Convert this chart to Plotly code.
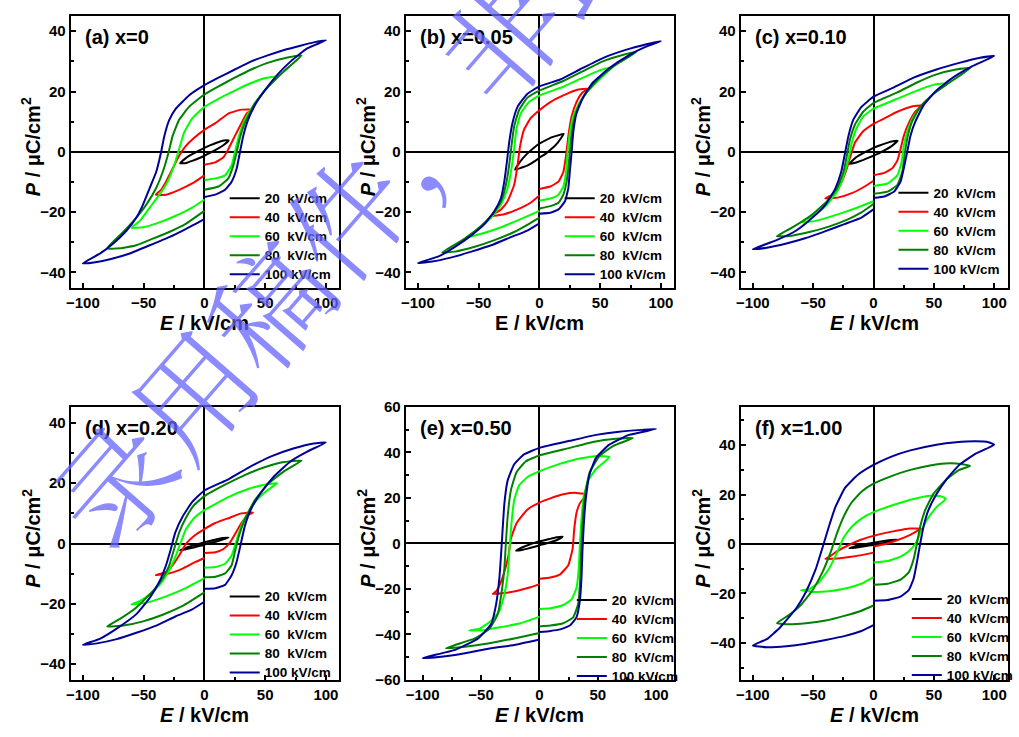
import plotly.graph_objects as go

# ---------------- data (E in kV/cm, P in uC/cm^2) ----------------
FIELD_LABELS = ["20\u00a0\u00a0kV/cm", "40\u00a0\u00a0kV/cm", "60\u00a0\u00a0kV/cm", "80\u00a0\u00a0kV/cm", "100\u00a0kV/cm"]
PANEL_TITLES = ["(a) x=0", "(b) x=0.05", "(c) x=0.10", "(d) x=0.20", "(e) x=0.50", "(f) x=1.00"]

# panel (a) x=0
A20 = [(0,-1.3),(5,-0.3),(10,0.8),(15,2.0),(20,3.8),(15,3.7),(10,3.0),(5,2.2),(0,1.3),(-5,0.3),(-10,-0.8),(-15,-2.0),(-20,-3.8),(-15,-3.7),(-10,-3.0),(-5,-2.2),(0,-1.3)]
A40 = [(0,-4.3),(9,-3.5),(15.7,-1.8),(19.7,0.9),(25,5.2),(30.5,9.5),(35,12.8),(40,14),(30.5,14),(19.7,12.7),(9,9.5),(0,7.3),(-8.6,4.6),(-15.4,1.9),(-20.8,-1.3),(-26.2,-5.6),(-31.6,-9.9),(-36,-12.8),(-40,-14.2),(-31.6,-14.2),(-20.8,-12.6),(-10,-10.5),(0,-7.8)]
A60 = [(0,-9.4),(9,-8.8),(17,-7.8),(22.4,-4.5),(25,-0.2),(28.4,5.2),(33.2,10.6),(41.4,16),(49.5,20.3),(60,25),(49.5,24.4),(36,22.4),(25,20.3),(11.6,17.6),(0,14.9),(-10,11.1),(-16.8,6.3),(-20.8,0.9),(-24.9,-4.5),(-30.3,-9.9),(-37,-14.2),(-45,-18.5),(-53.2,-22.9),(-60,-25.2),(-50.5,-25),(-37,-23.4),(-23.5,-21.2),(-10,-18.5),(0,-15.8)]
A80 = [(0,-12.6),(11.6,-11.5),(19.7,-8.8),(23.8,-4.5),(26.5,-0.2),(29.2,4.6),(33.2,9.5),(41.4,16),(52,21.4),(65.7,26.8),(80,32),(68.4,31.3),(52,29.5),(38.6,27.3),(25,24.6),(11.6,21.7),(0,19),(-12.7,14.9),(-20.8,10.6),(-26.2,5.2),(-29.5,-0.2),(-34.3,-6.7),(-39.7,-12),(-47.8,-17.5),(-56,-21.8),(-66.8,-26.6),(-80,-32),(-69.5,-32),(-56,-31),(-42.4,-28.8),(-29,-26.6),(-15.4,-23.9),(0,-19.6)]
A100 = [(0,-15),(9,-14.2),(17,-12.6),(22.4,-9.9),(26.5,-5.6),(29.2,-0.2),(31.9,5.2),(35.9,10.6),(41.4,15.4),(49.5,20.3),(60.3,25.7),(71,30),(84.6,34.3),(100,37),(90,36.3),(79,35.2),(65.7,33.8),(52,32),(38.6,30),(25,27.3),(11.6,24.6),(0,22.1),(-12.7,18.7),(-23.5,14.3),(-28.9,10.6),(-33,5.2),(-35.7,-0.2),(-39.7,-6.7),(-45,-12),(-50.5,-17.5),(-56,-21.8),(-64,-26.1),(-75,-30.4),(-85.7,-33.7),(-100,-37),(-91,-36.7),(-77.6,-35.6),(-61.4,-33.7),(-45,-31),(-29,-28.3),(-15.4,-25.6),(0,-22.3)]

# panel (b) x=0.05
B20 = [(0,-1.9),(5,-0.7),(10,1.0),(15,3.0),(20,6.0),(15,5.4),(10,4.8),(5,3.8),(0,2.7),(-5,1.2),(-10,-0.6),(-15,-2.8),(-20,-5.9),(-15,-5.3),(-10,-4.6),(-5,-3.4),(0,-2.0)]
B40 = [(0,-12.3),(9,-11.5),(15.7,-9.9),(19.7,-6.7),(21.9,-1.3),(23.8,5.2),(26.5,11.7),(30.5,16.5),(35,19.5),(40,21),(30.5,20.5),(19.7,18.7),(9,16.5),(0,13.8),(-7.3,11.1),(-12.7,7.3),(-15.9,1.9),(-18,-4.5),(-20.8,-11),(-26.2,-16.4),(-31.6,-19.1),(-40,-21.3),(-28.9,-20.7),(-18,-19.1),(-7.3,-16.9),(0,-14.5)]
B60 = [(0,-16.2),(9,-15.5),(15.7,-14.2),(19.7,-11.5),(21.9,-6.7),(23.2,-0.2),(25,6.3),(27.8,11.7),(33.2,16.5),(41.4,20.8),(50.8,24.6),(60,28),(49.5,27),(36,24.6),(19.7,21.6),(0,18.7),(-8.6,16.5),(-15.4,12.7),(-19,7.3),(-20.8,0.9),(-23,-5.6),(-26.2,-12.1),(-31.6,-17.5),(-39.7,-21.8),(-50.5,-25.6),(-60,-28.3),(-47.8,-27.2),(-31.6,-25),(-15.4,-22.3),(0,-19.6)]
B80 = [(0,-18.8),(9,-18),(15.7,-16.9),(19.7,-14.2),(22.4,-9.9),(24.3,-3.5),(25.7,3),(27.8,9.5),(31.9,14.9),(38.6,19.7),(49.5,24.6),(63,28.9),(80,33.2),(68.4,32.1),(52.2,30),(36,26.8),(19.7,23.5),(0,20.3),(-10,17.9),(-16.8,13.8),(-20.8,8.4),(-23,1.9),(-24.9,-4.5),(-27.6,-11),(-31.6,-16.4),(-38.4,-20.7),(-47.8,-24.5),(-61.4,-28.8),(-80,-33.4),(-69.5,-33.1),(-53.2,-31.5),(-37,-29.3),(-20.8,-26.6),(-10,-24.2),(0,-21.8)]
B100 = [(0,-20.5),(9,-20.2),(15.7,-19.1),(21,-16.4),(23.8,-12.1),(25,-6.7),(26.5,-0.2),(27.8,6.3),(30.5,12.7),(36,18.1),(44,23),(57.6,27.8),(73.8,32.1),(87.3,34.8),(100,36.7),(87.3,35.6),(71,33.8),(52.2,31.1),(33.2,27.3),(17,24),(0,21.7),(-10,19.2),(-18,14.9),(-22.2,9.5),(-24.9,3),(-26.8,-3.5),(-28.9,-9.9),(-31.6,-15.3),(-37,-19.6),(-45,-23.9),(-56,-27.7),(-69.5,-31.5),(-83,-34.7),(-100,-36.9),(-88.4,-36.4),(-72.2,-35),(-56,-33.1),(-39.7,-31),(-23.5,-28.3),(-10,-26.1),(0,-23.7)]

# panel (c) x=0.10
C20 = [(0,-1.2),(5,-0.4),(10,0.7),(15,1.9),(20,3.7),(15,3.4),(10,2.8),(5,2.1),(0,1.3),(-5,0.3),(-10,-0.8),(-15,-2.0),(-20,-4.0),(-15,-3.6),(-10,-2.9),(-5,-2.1),(0,-1.3)]
C40 = [(0,-7.8),(9,-7),(15.7,-5.4),(19.7,-2.9),(22.4,0.9),(25,5.2),(29.2,9.5),(34.6,13.3),(40,15.4),(30.5,14.9),(19.7,13.3),(9,11.1),(0,9.3),(-8.6,6.8),(-15.4,3),(-19,-1.3),(-22.2,-5.6),(-26.2,-9.9),(-31.6,-13.7),(-40,-15.5),(-28.9,-15.1),(-18,-13.7),(-7.3,-11.5),(0,-9.6)]
C60 = [(0,-11.3),(11.6,-10.5),(19.7,-7.8),(23.2,-3.5),(25,1.9),(28.4,7.3),(33.2,11.7),(41.4,16),(50.8,19.7),(60,22.7),(49.5,22.2),(36,20.3),(19.7,17.6),(0,14.3),(-8.6,11.7),(-14,7.9),(-18,3),(-20.8,-2.4),(-24.9,-8.3),(-30.3,-13.2),(-38.4,-17.5),(-47.8,-20.7),(-60,-23.4),(-47.8,-22.9),(-31.6,-21),(-15.4,-18.8),(0,-16.4)]
C80 = [(0,-13.9),(11.6,-13.2),(19.7,-11),(23.8,-6.7),(26,-0.2),(28.4,5.2),(31.9,10),(38.6,14.9),(49.5,19.2),(63,23),(80,27.8),(68.4,27.3),(52.2,25.7),(36,23),(19.7,19.7),(0,16.2),(-8.6,13.3),(-15.4,9),(-19.5,4.1),(-21.6,-0.2),(-24.9,-6.7),(-30.3,-12.1),(-38.4,-16.4),(-50.5,-20.7),(-66.8,-25),(-80,-28),(-69.5,-27.9),(-53.2,-26.6),(-37,-24.8),(-20.8,-22.3),(-10,-20.1),(0,-17.3)]
C100 = [(0,-15.3),(9,-14.8),(17,-13.2),(22.4,-9.9),(25,-5.6),(27.8,-0.2),(30.5,5.2),(34.6,10),(41.4,15.4),(52,20.3),(65.7,24.6),(81.9,28.4),(100,31.8),(87.3,31.1),(71,29.5),(52.2,27.3),(33.2,24.6),(17,21.4),(0,18.3),(-10,14.9),(-16.8,10.6),(-20.8,5.2),(-23.5,-0.2),(-26.8,-6.7),(-31.6,-12.1),(-39.7,-17.5),(-50.5,-21.8),(-64,-26.1),(-80.3,-29.3),(-100,-32.3),(-88.4,-31.8),(-72.2,-30.4),(-56,-28.6),(-39.7,-26.3),(-23.5,-23.9),(-10,-21.8),(0,-19.1)]

# panel (d) x=0.20
D20 = [(0,-0.3),(5,0.2),(10,0.7),(15,1.3),(20,2.0),(15,1.8),(10,1.4),(5,0.9),(0,0.4),(-5,-0.2),(-10,-0.7),(-15,-1.4),(-20,-2.2),(-15,-1.9),(-10,-1.4),(-5,-0.9),(0,-0.5)]
D40 = [(0,-3.1),(9,-2.9),(15.7,-1.8),(21,0.3),(25,3),(30.5,6.8),(36,9.5),(40,10.3),(30.5,10),(19.7,8.4),(9,6.8),(0,4.8),(-8.6,2.5),(-15.4,-0.2),(-20.8,-4),(-26.2,-7.2),(-31.6,-9.4),(-40,-10.5),(-28.9,-9.9),(-18,-8.3),(-7.3,-6.1),(0,-4.8)]
D60 = [(0,-8),(9,-7.8),(17,-6.7),(22.4,-4),(25.7,0),(29.2,4.6),(34.6,9.5),(42.7,14.3),(52.2,17.8),(60,20),(49.5,19.5),(36,18.1),(19.7,15.4),(0,11.1),(-8.6,8.4),(-15.4,4.6),(-19.5,0.3),(-23.5,-4),(-28.9,-8.8),(-35.7,-13.1),(-43.8,-16.4),(-53.2,-19.1),(-60,-20.2),(-47.8,-19.6),(-31.6,-17.5),(-15.4,-14.8),(0,-11.5)]
D80 = [(0,-11.2),(9,-11),(17,-9.9),(22.4,-7.2),(25,-2.9),(28.4,2.5),(33.2,7.9),(41.4,14.3),(52.2,19.7),(65.7,24),(80,27.5),(65.7,27),(49.5,25.3),(33.2,22.7),(17,19.5),(0,15.7),(-8.6,12.7),(-15.4,8.4),(-20.8,3.6),(-24.9,-1.8),(-28.9,-7.2),(-34.3,-11.5),(-42.4,-15.8),(-56,-21.2),(-69.5,-25),(-80,-27.5),(-66.8,-27.2),(-50.5,-25.8),(-34.3,-23.6),(-18,-20.7),(0,-16.2)]
D100 = [(0,-15),(9,-14.8),(17,-13.7),(22.4,-10.5),(26.5,-6.1),(30,0),(33.2,5.7),(38.6,11.6),(46.8,17),(57.6,22.4),(71,27.3),(84.6,30.5),(100,33.5),(90,33.2),(73.8,31.6),(54.9,28.9),(36,25.1),(19.7,21.3),(0,17.6),(-10,13.8),(-18,8.9),(-24,3.6),(-27.6,-1.8),(-31.6,-7.2),(-37,-12.6),(-45,-18),(-56,-23.4),(-72.2,-28.2),(-85.7,-31.5),(-100,-33.6),(-88.4,-33.1),(-72.2,-31.7),(-56,-29.6),(-39.7,-27.2),(-23.5,-24.1),(-10,-21.8),(0,-19.3)]

# panel (e) x=0.50
E20 = [(0,-0.8),(5,-0.2),(10,0.6),(15,1.5),(20,3.0),(15,2.7),(10,2.1),(5,1.5),(0,0.9),(-5,0.1),(-10,-0.8),(-15,-1.8),(-20,-3.2),(-15,-2.9),(-10,-2.3),(-5,-1.6),(0,-0.9)]
E40 = [(0,-15.6),(9.3,-15),(17.7,-13.6),(24.7,-9.6),(28.4,-2.4),(29.8,6.2),(31.7,13.3),(34.6,17.6),(40,21.5),(31.7,22.2),(20.5,21.6),(9.3,19.8),(0,17.9),(-10.4,14.8),(-19.5,9),(-24.5,1.9),(-26.5,-5.3),(-30,-12.5),(-33.4,-17.5),(-37.1,-21.1),(-40,-22.2),(-30,-21.8),(-18.8,-20.8),(-7.6,-19.3),(0,-17.9)]
E60 = [(0,-28.9),(9.3,-28.5),(20.5,-27.1),(27.5,-24.6),(31.7,-19.6),(33.7,-11),(34.6,-1),(36,10.5),(37.9,20.5),(41.6,27.7),(48.6,32.7),(60,38),(48.6,38.4),(31.7,37),(14.9,34.5),(0,31.7),(-10.4,29.1),(-17.4,25.5),(-21.6,19.1),(-23.9,9),(-25.6,-2.4),(-27.2,-13.9),(-30,-22.5),(-34.3,-29.7),(-41.3,-34),(-51.1,-37.5),(-60,-38.3),(-49.7,-38.3),(-32.9,-36.8),(-16,-35.1),(0,-32.2)]
E80 = [(0,-36.5),(9.3,-36.1),(20.5,-35.1),(28.9,-32.5),(33.1,-26.8),(34.8,-16.8),(35.7,-3.9),(36.8,7.6),(38.8,20.5),(43,31.2),(51.4,38.4),(62.6,42.7),(80,46.3),(65.4,46),(45.8,44.6),(26.1,42),(0,38.7),(-11.8,36),(-19.7,31.2),(-24.4,23.4),(-27.2,11.9),(-28.7,0.4),(-30,-11),(-32.3,-21.1),(-35.7,-31.1),(-42.7,-37.5),(-55.3,-41.8),(-72.2,-44.7),(-80,-46.1),(-63.8,-45.4),(-44.1,-44),(-21.6,-41.8),(0,-39.4)]
E100 = [(0,-39),(9.3,-38.5),(17.7,-37.8),(26.1,-36.1),(31.7,-32.5),(34.6,-25.4),(36,-15.3),(36.8,-3.9),(37.9,7.6),(39.6,19.1),(43,30.5),(48.6,37.7),(59.8,43.4),(76.7,47.7),(100,50.3),(87.9,49.9),(68.3,49.1),(48.6,47.7),(26.1,45.1),(0,42),(-13.2,39.1),(-21.6,34.8),(-27.2,27.7),(-30,17.6),(-31.5,6.2),(-32.9,-5.3),(-34.3,-15.3),(-37.1,-26.8),(-41.3,-35.4),(-52.5,-41.8),(-72.2,-46.8),(-100,-50.4),(-86.2,-50),(-63.8,-48.3),(-41.3,-46.1),(-21.6,-44.7),(0,-42.3)]

# panel (f) x=1.00
F20 = [(0,-0.4),(5,0),(10,0.5),(15,1.0),(20,1.8),(15,1.6),(10,1.3),(5,0.9),(0,0.5),(-5,0.1),(-10,-0.4),(-15,-0.9),(-20,-1.7),(-15,-1.5),(-10,-1.1),(-5,-0.7),(0,-0.4)]
F40 = [(0,-1),(10,0),(20,1.6),(30,3.6),(37,5.5),(40,6.2),(30,6.3),(20,5.5),(10,4.5),(0,3.3),(-10,1.8),(-20,-0.3),(-30,-2.9),(-37,-5.3),(-40,-6),(-30,-5.9),(-20,-5.3),(-10,-4.5),(0,-3.5)]
F60 = [(0,-7.5),(11.6,-6.9),(22.4,-5.1),(29.2,-2.9),(34.6,0),(38.6,4.3),(44,9.6),(52.2,14.9),(60,18.4),(54.9,19.4),(46.8,19.5),(33.2,18.2),(17,15.9),(0,12.9),(-10,10.3),(-18,7),(-24.9,2.4),(-30.3,-3.6),(-37,-10.1),(-45,-15.4),(-53.2,-18.3),(-60,-18.7),(-50.5,-19.4),(-37,-19.1),(-23.5,-18),(-10,-16.1),(0,-13.4)]
F80 = [(0,-16.5),(11.6,-16.1),(22.4,-14.4),(29.2,-11.5),(33.2,-6.2),(35.9,0),(38.6,7),(42.7,13.6),(49.5,20.2),(60.3,26.1),(71,30),(80,31.6),(73.8,32.3),(63,32.7),(46.8,31.8),(30.5,30),(14.3,27.4),(0,24.4),(-10,21.2),(-18,16.9),(-24.9,10.9),(-30.3,4.3),(-35.7,-3.6),(-42.4,-11.5),(-50.5,-18.7),(-60,-24.6),(-69.5,-28.6),(-80,-32),(-72.2,-32.5),(-56,-32.1),(-39.7,-31),(-23.5,-29),(-10,-27),(0,-24.9)]
F100 = [(0,-23),(11.6,-22.7),(22.4,-21.3),(29.2,-18.7),(33.2,-14.1),(35.9,-7.5),(38.6,0),(41.4,7),(45.4,13.6),(52.2,20.2),(60.3,26.1),(71,32),(84.6,36.6),(100,40.2),(95.4,41.2),(84.6,41.6),(68.4,41.2),(52.2,40.2),(30.5,37.9),(14.3,35.3),(0,32),(-12.7,28.1),(-23.5,22.8),(-31.6,14.9),(-37,7),(-41.9,-0.9),(-47.8,-10.1),(-56,-19.4),(-64,-26),(-77.6,-33.9),(-88.4,-38.5),(-100,-41.1),(-88.4,-41.8),(-72.2,-41.4),(-56,-40.4),(-39.7,-38.9),(-23.5,-37.2),(-10,-35.2),(0,-32.8)]

X_TICKS = [-100, -50, 0, 50, 100]
Y_TICKS_45 = [-40, -20, 0, 20, 40]
Y_TICKS_60 = [-60, -40, -20, 0, 20, 40, 60]

# ---------------- styling / layout ----------------
COLORS = ["#000000", "#FF0000", "#00FF00", "#008000", "#000099"]
FONT = "Arial, Liberation Sans, Helvetica, sans-serif"
W, H = 1019, 737

panels = [
    dict(loops=[A20, A40, A60, A80, A100], xr=[-110, 111], yr=[-45.2, 45.2], yt=Y_TICKS_45, col=0, row=0, xital=True),
    dict(loops=[B20, B40, B60, B80, B100], xr=[-110, 111], yr=[-45.2, 45.2], yt=Y_TICKS_45, col=1, row=0, xital=False),
    dict(loops=[C20, C40, C60, C80, C100], xr=[-110, 111], yr=[-45.2, 45.2], yt=Y_TICKS_45, col=2, row=0, xital=True),
    dict(loops=[D20, D40, D60, D80, D100], xr=[-110, 111], yr=[-45.2, 45.3], yt=Y_TICKS_45, col=0, row=1, xital=True),
    dict(loops=[E20, E40, E60, E80, E100], xr=[-114.5, 115.5], yr=[-60, 60], yt=Y_TICKS_60, col=1, row=1, xital=True),
    dict(loops=[F20, F40, F60, F80, F100], xr=[-110, 111], yr=[-55, 55.5], yt=Y_TICKS_45, col=2, row=1, xital=True),
]
COLS_PX = [(66.7, 339.3), (406.7, 679.3), (746.7, 1017.5)]
ROWS_PX = [(6.7, 285.7), (407.3, 686.7)]
LEGEND_PX = [(223, 178.8), (563, 178.8), (901.7, 173.3), (223, 586.5), (575.3, 590.0), (915.3, 589.0)]

fig = go.Figure()
annotations = []
layout = {}

for i, p in enumerate(panels):
    n = i + 1
    xa = "x" if n == 1 else f"x{n}"
    ya = "y" if n == 1 else f"y{n}"
    lg = "legend" if n == 1 else f"legend{n}"
    for k, loop in enumerate(p["loops"]):
        fig.add_trace(go.Scatter(
            x=[pt[0] for pt in loop], y=[pt[1] for pt in loop],
            mode="lines", name='<span style="font-size:13.5px">' + FIELD_LABELS[k] + "</span>",
            line=dict(color=COLORS[k], width=2, shape="spline", smoothing=0.4),
            xaxis=xa, yaxis=ya, legend=lg, showlegend=True, hoverinfo="skip"))
    x0, x1 = COLS_PX[p["col"]]
    y0, y1 = ROWS_PX[p["row"]]
    common = dict(showline=True, mirror=True, linecolor="black", linewidth=2,
                  showgrid=False, zeroline=True, zerolinecolor="black", zerolinewidth=2,
                  ticks="inside", ticklen=5, tickwidth=1.5, tickcolor="black",
                  tickfont=dict(family=FONT, size=15, color="black", weight="bold"))
    layout["xaxis" if n == 1 else f"xaxis{n}"] = dict(
        common, domain=[x0 / W, x1 / W], anchor=ya, range=p["xr"], tickvals=X_TICKS,
        minor=dict(ticks="inside", ticklen=3, tickwidth=1.5, tickcolor="black", dtick=25, tick0=0, showgrid=False))
    layout["yaxis" if n == 1 else f"yaxis{n}"] = dict(
        common, domain=[1 - y1 / H, 1 - y0 / H], anchor=xa, range=p["yr"], tickvals=p["yt"],
        minor=dict(ticks="inside", ticklen=3, tickwidth=1.5, tickcolor="black", dtick=10, tick0=0, showgrid=False))
    lx, ly = LEGEND_PX[i]
    layout[lg] = dict(x=lx / W, y=1 - ly / H, xanchor="left", yanchor="top",
                      bgcolor="rgba(0,0,0,0)", borderwidth=0, itemwidth=30,
                      font=dict(family=FONT, size=12.3, color="black", weight="bold"))
    # panel label
    annotations.append(dict(xref="paper", yref="paper", x=(x0 + 12) / W, y=1 - (y0 + 21.5) / H,
                            xanchor="left", yanchor="middle", showarrow=False,
                            text=PANEL_TITLES[i], font=dict(family=FONT, size=20, color="black", weight="bold")))
    # x title
    xt = "<i>E</i> / kV/cm" if p["xital"] else "E / kV/cm"
    annotations.append(dict(xref="paper", yref="paper", x=(x0 + 136) / W, y=1 - (y1 + 36) / H,
                            xanchor="center", yanchor="middle", showarrow=False, text=xt,
                            font=dict(family=FONT, size=20, color="black", weight="bold")))
    # y title
    annotations.append(dict(xref="paper", yref="paper", x=(x0 - 40) / W, y=1 - ((y0 + y1) / 2 - 5) / H,
                            xanchor="center", yanchor="middle", showarrow=False, textangle=-90,
                            text="<i>P</i> / μC/cm<sup>2</sup>",
                            font=dict(family=FONT, size=20, color="black", weight="bold")))

# watermark overlay
annotations.append(dict(xref="paper", yref="paper", x=501 / W, y=1 - 27 / H, xanchor="center", yanchor="middle",
                        showarrow=False, textangle=-49, text="录用稿件，非最终出版稿",
                        font=dict(family="Noto Serif CJK SC, Noto Sans CJK SC", size=118,
                                  color="rgba(100,100,255,0.75)", weight=300)))

fig.update_layout(**layout)
fig.update_layout(width=W, height=H, margin=dict(l=0, r=0, t=0, b=0), autosize=False,
                  plot_bgcolor="white", paper_bgcolor="white", annotations=annotations,
                  hovermode=False)
fig.write_html("out.html", config={"displayModeBar": False},
               post_script="document.body.style.margin='0px';document.body.style.overflow='hidden';")
